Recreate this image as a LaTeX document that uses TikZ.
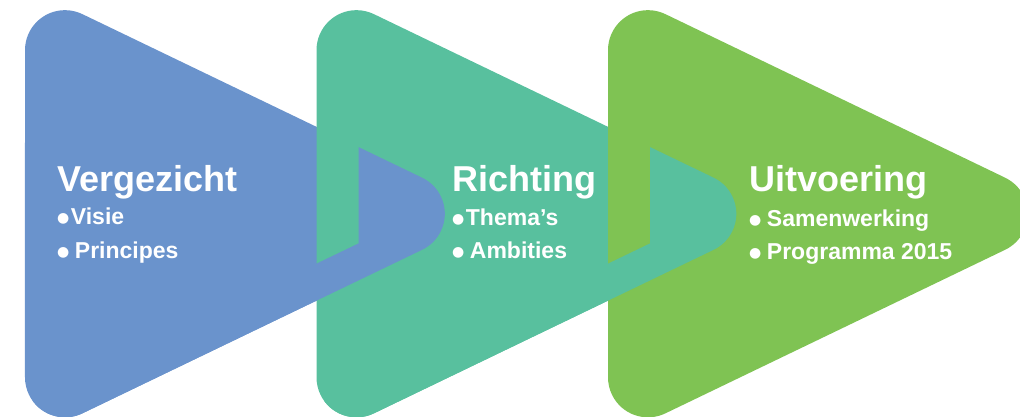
\documentclass[tikz,border=0pt]{standalone}
\usepackage{fontspec}
\setmainfont{Liberation Sans}
\newfontfamily\dotfont{DejaVu Sans}
\usetikzlibrary{positioning}
\definecolor{vblue}{HTML}{6A93CC}
\definecolor{rteal}{HTML}{58C09E}
\definecolor{ugreen}{HTML}{7FC353}
% rounded triangle, left edge at x=0, centre line at y=0
\newcommand{\tripath}{(0,163.59) arc[start angle=180, end angle=64.29, radius=40] -- (397.15,36.04) arc[start angle=64.29, end angle=-64.29, radius=40] -- (57.35,-199.63) arc[start angle=-64.29, end angle=-180, radius=40] -- cycle}
% part of a triangle that lies over the next one
\newcommand{\notchpath}{(333.5,300) -- (333.5,-29.67) -- (0,-190.25) -- (0,-300) -- (600,-300) -- (600,300) -- cycle}
\newcommand{\itembullet}{{\dotfont\fontsize{14}{14}\selectfont\raisebox{2.5pt}{●}}}
\tikzset{
    phasetitle/.style={text=white, inner sep=0pt, anchor=base west, font=\fontsize{36}{40}\selectfont\bfseries},
    phaseitem/.style={text=white, inner sep=0pt, font=\fontsize{23}{28}\selectfont\bfseries}
}

\begin{document}
\begin{tikzpicture}[x=1pt, y=1pt]

    \useasboundingbox (0,0) rectangle (1020,417);
    \clip (0,0) rectangle (1020,417);

    % Triangles
    \fill[vblue, shift={(25,203.25)}] \tripath;
    \fill[rteal, shift={(316.5,203.25)}] \tripath;
    \begin{scope}[shift={(25,203.25)}]
        \clip \notchpath;
        \fill[vblue] \tripath;
    \end{scope}
    \fill[ugreen, shift={(608,203.25)}] \tripath;
    \begin{scope}[shift={(316.5,203.25)}]
        \clip \notchpath;
        \fill[rteal] \tripath;
    \end{scope}

    % Vergezicht
    \node[phasetitle] (vergezicht) at (57,225) {Vergezicht};
    \node[phaseitem, below=33pt of vergezicht.base west, anchor=base west] (visie) {\itembullet\hspace{1.5pt}Visie};
    \node[phaseitem, below=34pt of visie.base west, anchor=base west] (principes) {\itembullet\hspace{5.5pt}Principes};

    % Richting
    \node[phasetitle] (richting) at (452,225) {Richting};
    \node[phaseitem, below=34pt of richting.base west, anchor=base west] (themas) {\itembullet\hspace{1.5pt}Thema’s};
    \node[phaseitem, below=33pt of themas.base west, anchor=base west] (ambities) {\itembullet\hspace{5.5pt}Ambities};

    % Uitvoering
    \node[phasetitle] (uitvoering) at (749,225) {Uitvoering};
    \node[phaseitem, below=35pt of uitvoering.base west, anchor=base west] (samenwerking) {\itembullet\hspace{5.5pt}Samenwerking};
    \node[phaseitem, below=33pt of samenwerking.base west, anchor=base west] (programma) {\itembullet\hspace{5.5pt}Programma 2015};

\end{tikzpicture}
\end{document}
